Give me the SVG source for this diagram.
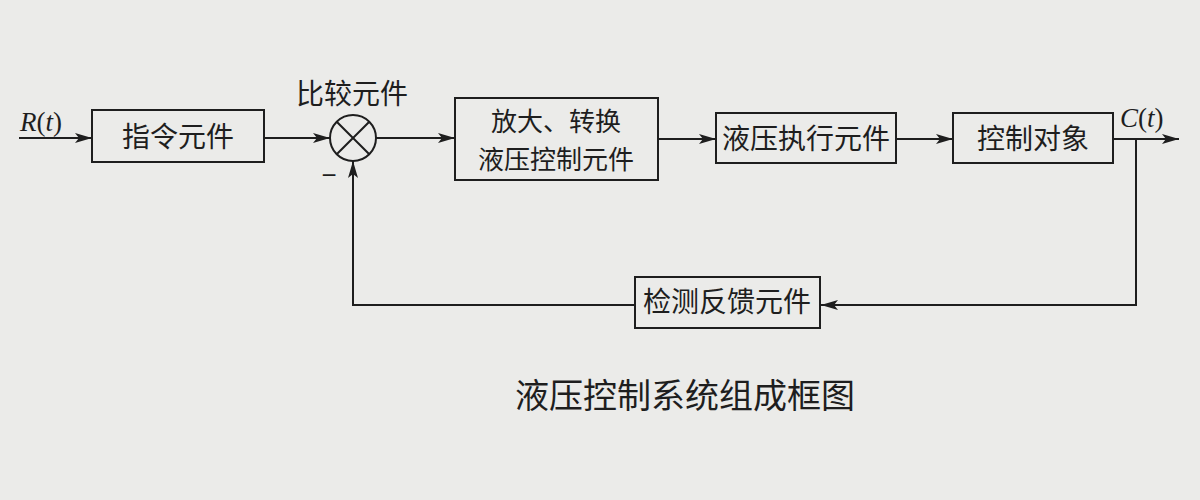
<svg xmlns="http://www.w3.org/2000/svg" width="1200" height="500" viewBox="0 0 1200 500">
<defs>
<marker id="arr" markerUnits="userSpaceOnUse" markerWidth="18" markerHeight="12" refX="17" refY="5" orient="auto">
<path d="M0,0 L17,5 L0,10 L4,5 Z" fill="#1e1e1e"/>
</marker>
</defs>
<style>
.box{fill:none;stroke:#1e1e1e;stroke-width:2}
.ln{fill:none;stroke:#1e1e1e;stroke-width:2}
.cn{font-family:"Noto Sans CJK SC","Noto Sans",sans-serif;font-size:28px;fill:#1e1e1e;text-anchor:middle}
.it{font-family:"Liberation Serif",serif;font-size:27px;fill:#1e1e1e}
</style>
<rect width="1200" height="500" fill="#ebebe9"/>
<g id="connectors">
<line class="ln" x1="19" y1="138" x2="92" y2="138" marker-end="url(#arr)"/>
<line class="ln" x1="264" y1="138" x2="330" y2="138" marker-end="url(#arr)"/>
<line class="ln" x1="376" y1="138" x2="455" y2="138" marker-end="url(#arr)"/>
<line class="ln" x1="658" y1="139" x2="716" y2="139" marker-end="url(#arr)"/>
<line class="ln" x1="896" y1="139" x2="953" y2="139" marker-end="url(#arr)"/>
<line class="ln" x1="1113" y1="139" x2="1179" y2="139" marker-end="url(#arr)"/>
<polyline class="ln" points="1136,139 1136,305 821,305" marker-end="url(#arr)"/>
<polyline class="ln" points="635,305 353,305 353,161" marker-end="url(#arr)"/>
</g>
<g id="input-label">
<text class="it" x="20" y="131"><tspan font-style="italic">R</tspan>(<tspan font-style="italic">t</tspan>)</text>
</g>
<g id="command">
<rect class="box" x="92" y="110" width="172" height="52"/>
<text class="cn" x="178" y="147">指令元件</text>
</g>
<g id="comparator">
<circle class="box" cx="353" cy="138" r="23"/>
<line class="ln" x1="336.7" y1="121.7" x2="369.3" y2="154.3"/>
<line class="ln" x1="369.3" y1="121.7" x2="336.7" y2="154.3"/>
<text class="cn" x="352" y="104">比较元件</text>
<text x="329" y="184" font-family="Liberation Sans, sans-serif" font-size="26" fill="#1e1e1e" text-anchor="middle">−</text>
</g>
<g id="amplifier">
<rect class="box" x="455" y="98" width="203" height="82"/>
<text class="cn" style="font-size:26px"><tspan x="556" y="131">放大、转换</tspan><tspan x="556" y="169">液压控制元件</tspan></text>
</g>
<g id="actuator">
<rect class="box" x="716" y="113" width="180" height="50"/>
<text class="cn" x="806" y="149">液压执行元件</text>
</g>
<g id="plant">
<rect class="box" x="953" y="113" width="160" height="50"/>
<text class="cn" x="1033" y="149">控制对象</text>
</g>
<g id="output-label">
<text class="it" x="1120" y="127"><tspan font-style="italic">C</tspan>(<tspan font-style="italic">t</tspan>)</text>
</g>
<g id="feedback">
<rect class="box" x="635" y="277" width="185" height="51"/>
<text class="cn" x="727" y="312">检测反馈元件</text>
</g>
<g id="caption">
<text class="cn" x="685" y="408" style="font-size:34px">液压控制系统组成框图</text>
</g>
</svg>
